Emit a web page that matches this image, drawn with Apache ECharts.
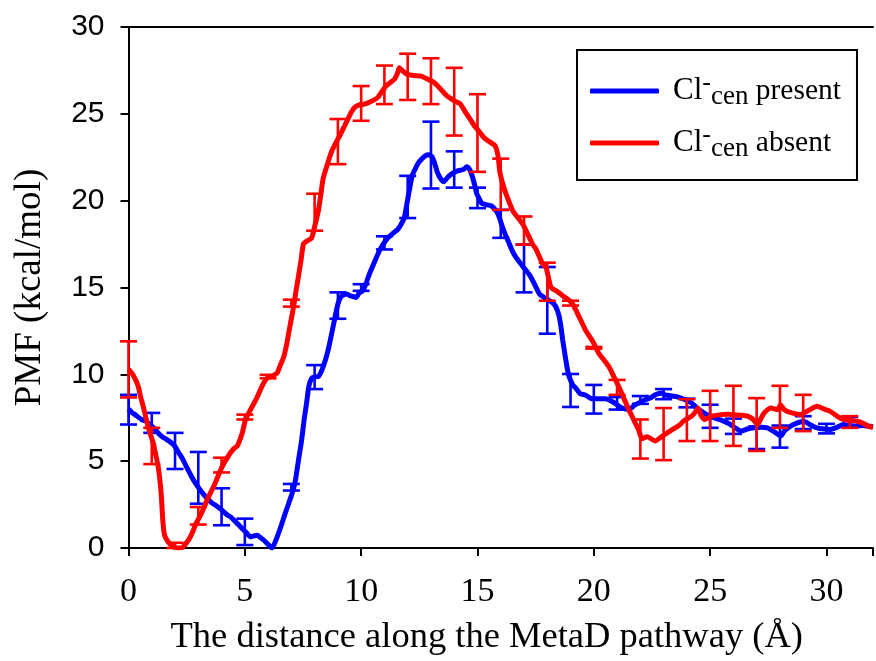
<!DOCTYPE html>
<html><head><meta charset="utf-8">
<script src="https://cdn.jsdelivr.net/npm/echarts@6/dist/echarts.min.js"></script>
<style>html,body{margin:0;padding:0;background:#fff}#c{width:876px;height:661px}</style>
</head><body><div id="c"></div>
<script>
// ---- data ----
const xTicks = [0, 5, 10, 15, 20, 25, 30];
const yTicks = [0, 5, 10, 15, 20, 25, 30];
const seriesNames = ['Cl-cen present', 'Cl-cen absent'];

const presentCurve = [[0,8.0],[0.15,7.8],[0.28,7.68],[0.56,7.4],[0.75,7.3],[0.92,7.11],[1.1,6.9],[1.27,6.63],[1.45,6.4],[1.63,6.26],[1.8,6.1],[1.98,5.88],[2.15,5.5],[2.33,5.12],[2.5,4.65],[2.69,4.16],[2.87,3.75],[3.05,3.4],[3.22,3.1],[3.4,2.83],[3.58,2.6],[3.76,2.45],[3.95,2.25],[4.11,2.07],[4.25,1.9],[4.39,1.79],[4.57,1.55],[4.75,1.31],[4.9,1.1],[5.03,0.93],[5.15,0.75],[5.25,0.64],[5.4,0.7],[5.53,0.74],[5.67,0.6],[5.81,0.46],[6.0,0.2],[6.17,0],[6.35,0.5],[6.52,1.12],[6.7,1.85],[6.88,2.55],[7.02,3.1],[7.16,3.78],[7.3,5.0],[7.44,6.2],[7.55,7.4],[7.66,8.4],[7.75,9.3],[7.87,9.77],[8.0,9.85],[8.16,9.87],[8.37,10.44],[8.58,11.39],[8.79,12.72],[9.0,14.05],[9.15,14.5],[9.36,14.62],[9.58,14.5],[9.79,14.43],[9.92,14.7],[10.07,14.81],[10.2,15.2],[10.36,15.8],[10.55,16.4],[10.78,17.1],[10.95,17.5],[11.14,17.85],[11.35,18.1],[11.56,18.33],[11.7,18.6],[11.85,19.0],[11.95,19.7],[12.06,20.52],[12.2,21.47],[12.35,21.9],[12.49,22.23],[12.77,22.6],[12.9,22.65],[13.05,22.52],[13.17,22.1],[13.27,21.66],[13.4,21.3],[13.55,21.09],[13.72,21.35],[13.91,21.56],[14.1,21.7],[14.26,21.75],[14.4,21.8],[14.54,21.95],[14.66,21.8],[14.76,21.47],[14.88,20.9],[14.97,20.4],[15.08,20.1],[15.18,19.85],[15.4,19.76],[15.6,19.7],[15.82,19.38],[15.95,19.0],[16.04,18.61],[16.18,18.1],[16.32,17.67],[16.5,17.1],[16.67,16.71],[16.9,16.3],[17.1,15.96],[17.25,15.7],[17.38,15.38],[17.52,15.0],[17.67,14.62],[17.9,14.4],[18.09,14.24],[18.25,14.1],[18.38,13.86],[18.5,13.4],[18.59,12.72],[18.66,12.0],[18.73,11.39],[18.8,10.8],[18.87,10.25],[18.94,9.87],[19.09,9.4],[19.23,9.2],[19.4,8.9],[19.65,8.8],[19.9,8.6],[20.22,8.6],[20.5,8.6],[20.79,8.44],[21.0,8.25],[21.22,8.06],[21.5,7.97],[21.78,8.25],[22.0,8.4],[22.21,8.54],[22.45,8.65],[22.64,8.82],[22.92,8.92],[23.06,8.82],[23.35,8.75],[23.63,8.69],[23.9,8.55],[24.2,8.35],[24.4,8.1],[24.63,7.87],[24.9,7.65],[25.19,7.49],[25.5,7.35],[25.76,7.2],[26.05,6.95],[26.33,6.73],[26.6,6.85],[26.9,6.92],[27.2,6.95],[27.46,6.92],[27.75,6.7],[28.03,6.45],[28.2,6.75],[28.46,7.02],[28.75,7.2],[29.02,7.3],[29.3,7.1],[29.59,6.92],[29.9,6.85],[30.16,6.83],[30.45,6.95],[30.73,7.11],[31.0,7.05],[31.3,7.02],[31.55,7.05],[31.79,7.02],[32,7.0]];

const absentCurve = [[0,10.3],[0.15,10.05],[0.3,9.7],[0.42,9.3],[0.52,8.7],[0.63,8.16],[0.75,7.5],[0.84,7.0],[0.95,6.5],[1.06,6.06],[1.15,5.5],[1.27,4.73],[1.35,3.9],[1.41,3.02],[1.48,1.5],[1.55,0.74],[1.7,0.36],[1.91,0.08],[2.12,0],[2.33,0.04],[2.48,0.28],[2.62,0.55],[2.76,0.93],[2.9,1.41],[3.09,1.88],[3.25,2.35],[3.4,2.83],[3.55,3.25],[3.68,3.59],[3.85,4.15],[4.04,4.73],[4.2,5.1],[4.39,5.5],[4.55,5.75],[4.68,5.88],[4.89,6.63],[5.03,7.4],[5.18,7.8],[5.32,8.16],[5.5,8.6],[5.67,9.11],[5.81,9.5],[5.95,9.77],[6.17,9.9],[6.38,10.06],[6.52,10.5],[6.67,11.0],[6.78,11.6],[6.88,12.34],[7.0,13.2],[7.09,13.86],[7.2,14.8],[7.3,15.6],[7.42,16.6],[7.52,17.5],[7.7,17.7],[7.87,17.85],[8.0,18.5],[8.16,19.4],[8.27,20.4],[8.37,21.3],[8.55,22.1],[8.72,22.8],[8.9,23.3],[9.08,23.75],[9.25,24.2],[9.43,24.7],[9.58,25.1],[9.72,25.37],[9.9,25.5],[10.14,25.56],[10.4,25.7],[10.71,25.94],[10.9,26.3],[11.07,26.6],[11.25,26.8],[11.42,26.98],[11.55,27.3],[11.64,27.65],[11.8,27.45],[11.99,27.27],[12.3,27.2],[12.56,27.17],[12.85,27.0],[13.13,26.8],[13.4,26.45],[13.69,26.03],[14.0,25.75],[14.26,25.56],[14.48,25.1],[14.68,24.7],[14.9,24.25],[15.1,23.94],[15.3,23.6],[15.54,23.37],[15.75,23.18],[15.88,22.6],[15.96,21.66],[16.1,20.9],[16.25,20.3],[16.53,19.38],[16.75,19.0],[16.96,18.61],[17.1,18.24],[17.38,17.47],[17.52,17.2],[17.81,16.33],[17.95,16.14],[18.16,15.0],[18.4,14.8],[18.66,14.53],[18.9,14.3],[19.09,14.05],[19.3,13.5],[19.65,12.53],[19.95,11.9],[20.22,11.2],[20.45,10.8],[20.65,10.44],[20.85,9.9],[21.07,9.3],[21.3,8.6],[21.5,7.97],[21.64,7.6],[21.78,7.2],[21.92,6.83],[22.07,6.3],[22.3,6.4],[22.64,6.16],[22.85,6.35],[23.06,6.54],[23.35,6.8],[23.63,7.02],[23.9,7.35],[24.2,7.59],[24.35,7.8],[24.48,8.06],[24.62,7.6],[24.77,7.4],[25.05,7.59],[25.48,7.68],[25.75,7.7],[26.04,7.68],[26.35,7.65],[26.61,7.59],[26.85,7.4],[27.04,7.11],[27.2,7.5],[27.32,7.78],[27.61,8.06],[27.89,7.97],[28.03,8.25],[28.15,8.0],[28.31,7.87],[28.6,7.75],[28.88,7.68],[29.2,7.9],[29.59,8.16],[29.9,8.0],[30.16,7.87],[30.45,7.6],[30.73,7.4],[31.0,7.35],[31.3,7.3],[31.55,7.2],[31.79,7.02],[32,6.95]];

// error bars: [x, low, high]
const presentErr = [[0,7.11,8.82],[1,6.63,7.78],[2,4.55,6.63],[3,2.55,5.53],[4,1.31,3.44],[5,0.17,1.69],[7,3.31,3.69],[8,9.15,10.53],[9,13.2,14.72],[10,14.81,15.19],[11,17.19,17.95],[12,19.0,21.43],[13,20.7,24.55],[14,20.75,22.84],[15,19.57,20.75],[16,17.86,19.47],[17,14.72,17.47],[18,12.34,16.18],[19,8.12,10.02],[20,7.74,9.39],[21,7.97,8.69],[22,8.3,8.75],[23,8.57,9.15],[24,8.1,8.6],[25,6.92,8.25],[26,6.57,7.45],[27,5.7,7.0],[28,5.78,7.05],[29,6.85,7.59],[30,6.6,7.15],[31,7.02,7.55]];
const absentErr = [[0,8.67,11.9],[1,4.83,6.92],[2,0,0.3],[3,1.35,2.36],[4,4.35,5.2],[5,7.4,7.68],[6,9.77,9.97],[7,13.9,14.3],[8,18.27,20.4],[9,22.1,24.7],[10,24.6,26.6],[11,25.56,27.78],[12,25.8,28.46],[13,25.56,28.2],[14,23.75,27.65],[15,21.66,26.13],[16,19.47,22.42],[17,17.47,19.09],[18,14.24,16.43],[19,13.96,14.24],[20,11.48,11.58],[21,8.82,9.68],[22,5.15,7.4],[23,5.06,8.06],[24,6.16,8.57],[25,6.16,9.05],[26,5.88,9.34],[27,5.59,8.63],[28,6.92,9.34],[29,6.73,8.82],[31,6.92,7.59]];

const BLUE = '#0000ff', RED = '#ff0000';
const SERIF = '"Liberation Serif","Times New Roman",serif';
const SANS = '"Liberation Sans",Arial,sans-serif';

function errRender(color) {
  return function (params, api) {
    const x = api.value(0), lo = api.value(1), hi = api.value(2);
    const a = api.coord([x, lo]), b = api.coord([x, hi]);
    const w = 8.5, st = { stroke: color, lineWidth: 2.6 };
    return { type: 'group', children: [
      { type: 'line', shape: { x1: a[0], y1: a[1], x2: b[0], y2: b[1] }, style: st },
      { type: 'line', shape: { x1: a[0] - w, y1: a[1], x2: a[0] + w, y2: a[1] }, style: st },
      { type: 'line', shape: { x1: b[0] - w, y1: b[1], x2: b[0] + w, y2: b[1] }, style: st }
    ]};
  };
}

const chart = echarts.init(document.getElementById('c'), null, { renderer: 'canvas' });
chart.setOption({
  animation: false,
  backgroundColor: '#fff',
  grid: { left: 128.5, top: 27, right: -4, bottom: 108, containLabel: false },
  legend: {
    left: 577, top: 50, orient: 'vertical',
    data: seriesNames, icon: 'roundRect', itemWidth: 69, itemHeight: 5, itemGap: 10,
    padding: [20, 16, 16, 13], borderColor: '#000', borderWidth: 2,
    formatter: function (n) {
      const word = n.split(' ')[1];
      return '{a|Cl}{sup|-}{sub|cen}{b| ' + word + '}';
    },
    textStyle: {
      color: '#000', fontFamily: SERIF,
      rich: {
        a: { fontFamily: SERIF, fontSize: 31, color: '#000', padding: [0, 0, 0, 9], lineHeight: 36 },
        sup: { fontFamily: SERIF, fontSize: 26, color: '#000', padding: [0, 0, 16, 0], lineHeight: 36 },
        sub: { fontFamily: SERIF, fontSize: 27, color: '#000', padding: [12, 0, 0, 0], lineHeight: 36 },
        b: { fontFamily: SERIF, fontSize: 29.5, color: '#000', lineHeight: 36 }
      }
    }
  },
  xAxis: [{
    type: 'value', min: 0, max: 32, interval: 5,
    name: 'The distance along the MetaD pathway (\u00C5)', nameLocation: 'middle', nameGap: 71,
    nameTextStyle: { fontFamily: SERIF, fontSize: 36.5, color: '#000', padding: [0, 28, 0, 0] },
    axisLine: { lineStyle: { color: '#000', width: 2 } },
    axisTick: { show: true, inside: false, length: 8, lineStyle: { color: '#000', width: 2 } },
    axisLabel: { margin: 27, fontFamily: SERIF, fontSize: 34, color: '#000',
      formatter: v => (xTicks.indexOf(v) >= 0 ? String(v) : '') },
    splitLine: { show: false }
  }, {
    type: 'value', position: 'top', min: 0, max: 32,
    axisLine: { show: true, lineStyle: { color: '#000', width: 2 } },
    axisTick: { show: false }, axisLabel: { show: false }, splitLine: { show: false }
  }],
  yAxis: {
    type: 'value', min: 0, max: 30, interval: 5,
    name: 'PMF (kcal/mol)', nameLocation: 'middle', nameGap: 80, nameRotate: 90,
    nameTextStyle: { fontFamily: SERIF, fontSize: 37, color: '#000' },
    axisLine: { show: true, lineStyle: { color: '#000', width: 2 } },
    axisTick: { show: true, inside: false, length: 8, lineStyle: { color: '#000', width: 2 } },
    axisLabel: { margin: 24, fontFamily: SANS, fontSize: 30, color: '#000',
      formatter: v => (yTicks.indexOf(v) >= 0 ? String(v) : '') },
    splitLine: { show: false }
  },
  series: [
    { name: seriesNames[0], type: 'line', data: presentCurve, symbol: 'none', smooth: 0.2,
      lineStyle: { color: BLUE, width: 5 }, itemStyle: { color: BLUE }, z: 2 },
    { name: 'presentErr', type: 'custom', data: presentErr, renderItem: errRender(BLUE),
      encode: { x: 0, y: [1, 2] }, z: 3 },
    { name: seriesNames[1], type: 'line', data: absentCurve, symbol: 'none', smooth: 0.2,
      lineStyle: { color: RED, width: 5 }, itemStyle: { color: RED }, z: 4 },
    { name: 'absentErr', type: 'custom', data: absentErr, renderItem: errRender(RED),
      encode: { x: 0, y: [1, 2] }, z: 5 }
  ]
});
</script>
</body></html>
